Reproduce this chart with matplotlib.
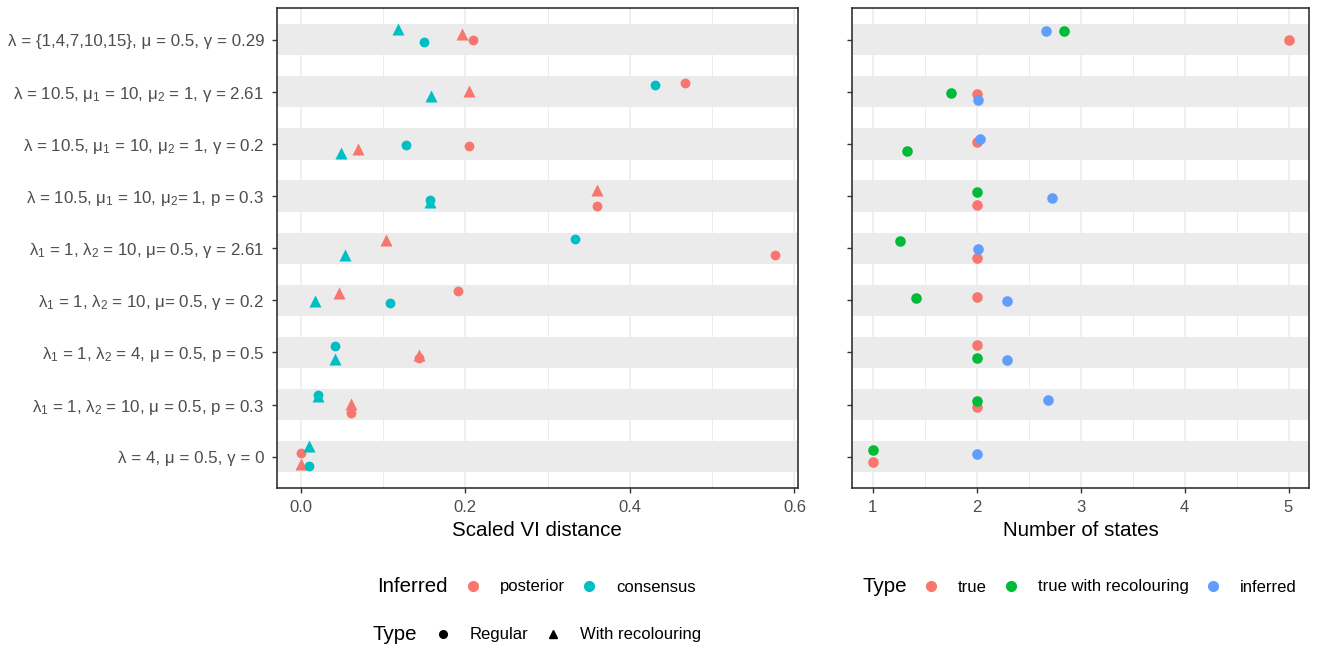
import matplotlib
matplotlib.use("Agg")
import matplotlib.pyplot as plt
from matplotlib.lines import Line2D

plt.rcParams["font.family"] = ["Liberation Sans", "DejaVu Sans"]
plt.rcParams["mathtext.fontset"] = "custom"
plt.rcParams["mathtext.rm"] = "Liberation Sans"
plt.rcParams["mathtext.default"] = "regular"

# row labels, top to bottom
scenarios = [
    "λ = {1,4,7,10,15}, μ = 0.5, γ = 0.29",
    "λ = 10.5, μ$_1$ = 10, μ$_2$ = 1, γ = 2.61",
    "λ = 10.5, μ$_1$ = 10, μ$_2$ = 1, γ = 0.2",
    "λ = 10.5, μ$_1$ = 10, μ$_2$= 1, p = 0.3",
    "λ$_1$ = 1, λ$_2$ = 10, μ= 0.5, γ = 2.61",
    "λ$_1$ = 1, λ$_2$ = 10, μ= 0.5, γ = 0.2",
    "λ$_1$ = 1, λ$_2$ = 4, μ = 0.5, p = 0.5",
    "λ$_1$ = 1, λ$_2$ = 10, μ = 0.5, p = 0.3",
    "λ = 4, μ = 0.5, γ = 0",
]

# scaled VI distance (left panel)
posterior_regular = [0.209, 0.467, 0.205, 0.360, 0.576, 0.191, 0.144, 0.061, 0.0]
posterior_recol = [0.196, 0.204, 0.070, 0.360, 0.104, 0.0465, 0.144, 0.061, 0.0]
consensus_regular = [0.150, 0.430, 0.128, 0.157, 0.333, 0.109, 0.042, 0.0214, 0.0105]
consensus_recol = [0.118, 0.158, 0.049, 0.157, 0.054, 0.0176, 0.042, 0.0214, 0.0105]

# vertical jitter of each point (category units, positive = down)
jit_post_reg = [0.006, -0.17, 0.05, 0.19, 0.14, -0.185, 0.11, 0.153, -0.064]
jit_post_rec = [-0.115, -0.006, 0.096, -0.12, -0.16, -0.147, 0.05, -0.013, 0.14]
jit_cons_reg = [0.045, -0.135, 0.02, 0.077, -0.185, 0.045, -0.115, -0.185, 0.185]
jit_cons_rec = [-0.205, 0.083, 0.17, 0.11, 0.128, 0.006, 0.134, -0.16, -0.2]

# number of states (right panel)
states_true = [5, 2, 2, 2, 2, 2, 2, 2, 1]
states_recol = [2.841, 1.749, 1.328, 2.0, 1.263, 1.417, 2.0, 2.0, 1.0]
states_inferred = [2.671, 2.01, 2.03, 2.729, 2.01, 2.293, 2.293, 2.69, 2.0]

jit_true = [0.0, 0.04, -0.045, 0.18, 0.18, -0.07, -0.147, 0.05, 0.096]
jit_recol = [-0.16, 0.02, 0.14, -0.083, -0.128, -0.04, 0.115, -0.07, -0.12]
jit_inferred = [-0.16, 0.16, -0.09, 0.045, 0.013, 0.02, 0.147, -0.096, -0.045]

RED = "#F8766D"
CYAN = "#00BFC4"
GREEN = "#00BA38"
BLUE = "#619CFF"
BAND = "#EBEBEB"
DARK = "#333333"

W, H = 1317, 650
fig = plt.figure(figsize=(W / 100, H / 100), dpi=100)
ax1 = fig.add_axes([277 / W, 1 - 488 / H, (797.7 - 277) / W, (488 - 8.3) / H])
ax2 = fig.add_axes([852 / W, 1 - 488 / H, (1309.3 - 852) / W, (488 - 8.3) / H])

rows = list(range(len(scenarios)))


def style_panel(ax, major, minor, xlim):
    ax.set_xlim(*xlim)
    ax.set_ylim(len(rows) - 0.4, -0.6)
    ax.set_xticks(major)
    ax.set_xticks(minor, minor=True)
    ax.tick_params(axis="x", which="minor", length=0)
    for v in major:
        ax.axvline(v, color=BAND, lw=1.1, zorder=0)
    for v in minor:
        ax.axvline(v, color=BAND, lw=0.7, zorder=0)
    for r in rows:
        ax.axhspan(r - 0.3, r + 0.3, color=BAND, lw=0, zorder=1)
    for s in ax.spines.values():
        s.set_color(DARK)
        s.set_linewidth(1.2)
    ax.tick_params(which="major", length=3.8, width=1.0, color=DARK,
                   labelcolor="#4D4D4D", labelsize=12)
    ax.tick_params(axis="x", pad=4.5)
    ax.tick_params(axis="y", pad=5.5, labelsize=12.2)


def ys(jit):
    return [r + j for r, j in zip(rows, jit)]


# left panel
style_panel(ax1, [0.0, 0.2, 0.4, 0.6], [0.1, 0.3, 0.5], (-0.0288, 0.604))
ax1.set_xticklabels(["0.0", "0.2", "0.4", "0.6"])
ax1.set_yticks(rows)
ax1.set_yticklabels(scenarios)
ax1.scatter(posterior_regular, ys(jit_post_reg), s=50, marker="o", color=RED, lw=0, zorder=3)
ax1.scatter(posterior_recol, ys(jit_post_rec), s=75, marker="^", color=RED, lw=0, zorder=3)
ax1.scatter(consensus_regular, ys(jit_cons_reg), s=50, marker="o", color=CYAN, lw=0, zorder=3)
ax1.scatter(consensus_recol, ys(jit_cons_rec), s=75, marker="^", color=CYAN, lw=0, zorder=3)
ax1.set_xlabel("Scaled VI distance", fontsize=14.8, labelpad=4.5)

# right panel
style_panel(ax2, [1, 2, 3, 4, 5], [1.5, 2.5, 3.5, 4.5], (0.8, 5.2))
ax2.set_yticks(rows)
ax2.set_yticklabels([])
ax2.scatter(states_true, ys(jit_true), s=58, marker="o", color=RED, lw=0, zorder=3)
ax2.scatter(states_recol, ys(jit_recol), s=58, marker="o", color=GREEN, lw=0, zorder=3)
ax2.scatter(states_inferred, ys(jit_inferred), s=58, marker="o", color=BLUE, lw=0, zorder=3)
ax2.set_xlabel("Number of states", fontsize=14.8, labelpad=4.5)


# legends along the bottom
def bottom_legend(title, tx, ty, kx, entries, msize):
    fig.text(tx / W, 1 - ty / H, title, fontsize=14.8, ha="left", va="center")
    handles = [Line2D([], [], ls="", marker=m, color=c, markersize=msize) for m, c, _ in entries]
    fig.legend(handles, [e[2] for e in entries], loc="center left",
               bbox_to_anchor=(kx / W, 1 - ty / H), ncol=len(entries), frameon=False,
               fontsize=12, handlelength=1.0, handletextpad=1.1, columnspacing=0.98,
               borderpad=0, borderaxespad=0)


bottom_legend("Inferred", 377, 587, 464.5,
              [("o", RED, "posterior"), ("o", CYAN, "consensus")], 7)
bottom_legend("Type", 373, 635, 434.5,
              [("o", "black", "Regular"), ("^", "black", "With recolouring")], 5.5)
bottom_legend("Type", 862, 587, 922.5,
              [("o", RED, "true"), ("o", GREEN, "true with recolouring"), ("o", BLUE, "inferred")], 7)

fig.savefig("out.png", dpi=100)
